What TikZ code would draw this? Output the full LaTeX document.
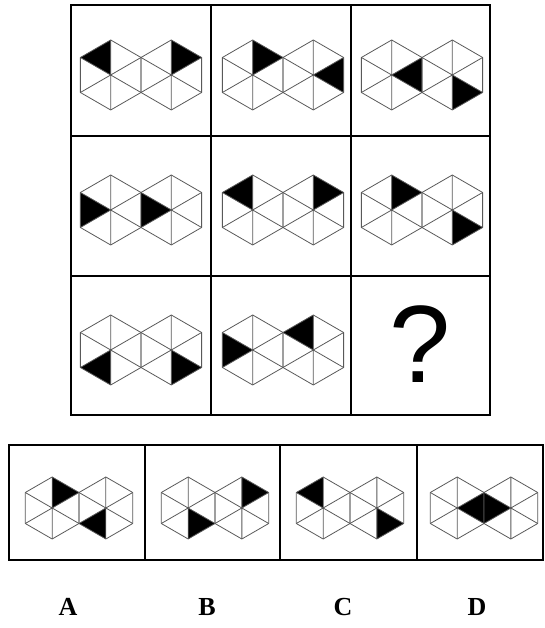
\documentclass[tikz,border=0pt]{standalone}
\usepackage{fontspec}
\setmainfont{Liberation Serif}
\newfontfamily\qfont{Liberation Sans}
\usepackage{tikz}
\usetikzlibrary{positioning}

% two hexagons side by side, one black triangle in each
% #1,#2 centre, #3 radius, #4 left triangle, #5 right triangle (1..6 clockwise from top)
\newcommand{\hexpair}[5]{%
  \foreach \s/\k in {-1/#4,1/#5} {
    \begin{scope}[shift={({#1+\s*0.866*#3},#2)}]
      \fill[black] (0,0) -- ({90-60*(\k-1)}:#3) -- ({90-60*\k}:#3) -- cycle;
      \draw[hexline] (90:#3) -- (30:#3) -- (-30:#3) -- (-90:#3) -- (-150:#3) -- (150:#3) -- cycle;
      \draw[hexline] (90:#3) -- (-90:#3) (30:#3) -- (-150:#3) (150:#3) -- (-30:#3);
    \end{scope}
  }%
}

\begin{document}
\begin{tikzpicture}[x=1pt,y=1pt,
  frame/.style={line width=2pt,black},
  hexline/.style={line width=0.8pt,black!65,line join=round},
  optlabel/.style={font=\fontsize{26}{30}\selectfont\bfseries}]
\useasboundingbox (0,0) rectangle (545,628);

% the 3x3 grid
\draw[frame] (71,213) rectangle (490,623);
\draw[frame] (211,213) -- (211,623) (351,213) -- (351,623);
\draw[frame] (71,352) -- (490,352) (71,492) -- (490,492);

\hexpair{141}{553}{35}{6}{1}
\hexpair{283}{553}{35}{1}{2}
\hexpair{422}{553}{35}{2}{3}
\hexpair{141}{418}{35}{5}{5}
\hexpair{283}{418}{35}{6}{1}
\hexpair{422}{418}{35}{1}{3}
\hexpair{141}{278}{35}{4}{3}
\hexpair{283}{278}{35}{5}{6}
\node (qm) at (420,284) {\qfont\fontsize{110}{120}\selectfont ?};

% answer choices
\draw[frame] (9,68) rectangle (543,183);
\draw[frame] (145,68) -- (145,183) (280,68) -- (280,183) (417,68) -- (417,183);

\hexpair{79}{120}{31}{1}{4}
\hexpair{215}{120}{31}{3}{1}
\hexpair{350}{120}{31}{6}{3}
\hexpair{484}{120}{31}{2}{5}

\node[optlabel] (la) at (68,21) {A};
\node[optlabel] (lb) at (207,21) {B};
\node[optlabel] (lc) at (343,21) {C};
\node[optlabel] (ld) at (477,21) {D};
\end{tikzpicture}
\end{document}
